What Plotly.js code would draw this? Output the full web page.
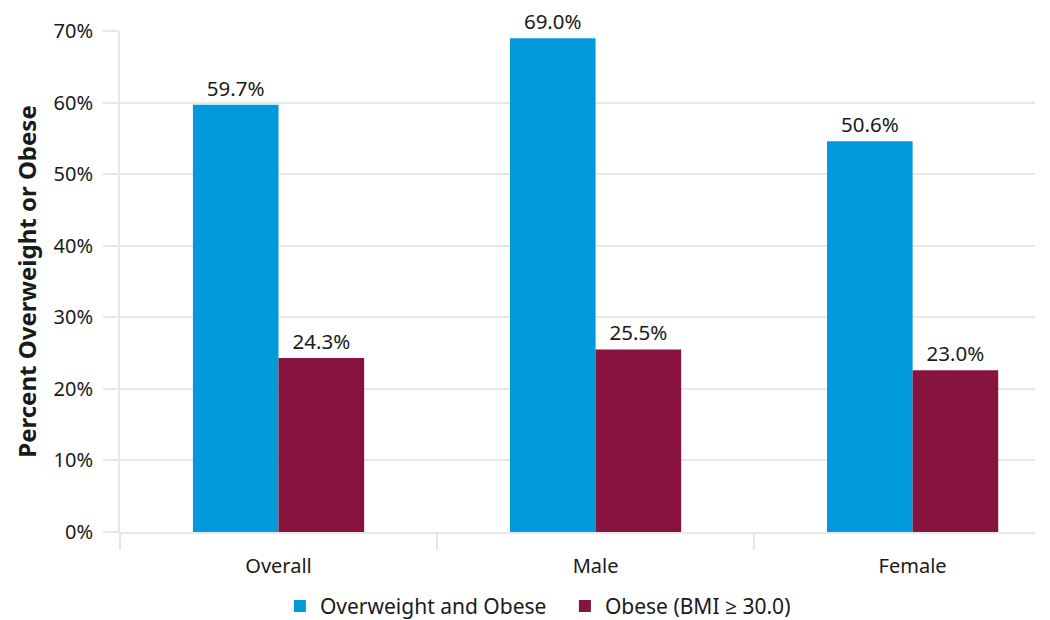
<!DOCTYPE html>
<html>
<head>
<meta charset="utf-8">
<script src="https://cdn.plot.ly/plotly-3.0.1.min.js"></script>
<style>html,body{margin:0;padding:0;background:#fff;}#chart{width:1050px;height:620px;}</style>
</head>
<body>
<div id="chart"></div>
<script>
// Data
const categories = ["Overall", "Male", "Female"];
const overweightObese = [59.7, 69.0, 54.6];          // bar heights as drawn
const overweightObeseLabels = ["59.7%", "69.0%", "50.6%"];  // labels as printed
const obese = [24.3, 25.5, 22.6];
const obeseLabels = ["24.3%", "25.5%", "23.0%"];
const yTickVals = [0, 10, 20, 30, 40, 50, 60, 70];
const yTickText = ["0%", "10%", "20%", "30%", "40%", "50%", "60%", "70%"];
const seriesNames = ["Overweight and Obese", "Obese (BMI \u2265 30.0)"];
const colors = ["#009ADA", "#86143F"];

const font = "Noto Sans, Open Sans, sans-serif";
const textColor = "#1a1a1a";
const gridColor = "#e7e7e7";

const traces = [
  {
    type: "bar", name: seriesNames[0], x: categories, y: overweightObese,
    text: overweightObeseLabels, texttemplate: "%{text}", textposition: "outside",
    cliponaxis: false,
    textfont: {family: font, size: 20.5, color: textColor},
    marker: {color: colors[0]}, hoverinfo: "skip"
  },
  {
    type: "bar", name: seriesNames[1], x: categories, y: obese,
    text: obeseLabels, texttemplate: "%{text}", textposition: "outside",
    cliponaxis: false,
    textfont: {family: font, size: 20.5, color: textColor},
    marker: {color: colors[1]}, hoverinfo: "skip"
  }
];

const layout = {
  width: 1050, height: 620,
  margin: {l: 120, r: 15, t: 31, b: 88, autoexpand: false},
  paper_bgcolor: "#ffffff", plot_bgcolor: "#ffffff",
  font: {family: font, color: textColor, size: 20},
  barmode: "group", bargap: 0.46, bargroupgap: 0,
  showlegend: true,
  legend: {
    orientation: "h", xref: "container", yref: "container",
    x: 0.538, xanchor: "center", y: 0.022, yanchor: "middle",
    font: {family: font, size: 21, color: textColor},
    itemwidth: 30, tracegroupgap: 0, entrywidth: 240
  },
  xaxis: {
    type: "category", range: [-0.5, 2.386], automargin: false,
    tickson: "boundaries", ticks: "outside", ticklen: 16, tickwidth: 2, tickcolor: gridColor,
    ticklabelstandoff: 15,
    showgrid: false, showline: true, linecolor: gridColor, linewidth: 2,
    tickfont: {family: font, size: 20, color: textColor},
    fixedrange: true
  },
  yaxis: {
    range: [0, 70], tickvals: yTickVals, ticktext: yTickText, automargin: false,
    ticks: "outside", ticklen: 15, tickwidth: 2, tickcolor: gridColor,
    ticklabelstandoff: 6,
    showgrid: true, gridcolor: gridColor, gridwidth: 2,
    showline: true, linecolor: gridColor, linewidth: 2,
    zeroline: false,
    tickfont: {family: font, size: 20, color: textColor},
    title: {text: "<b>Percent Overweight or Obese</b>", font: {family: font, size: 24, color: textColor}, standoff: 10},
    fixedrange: true
  }
};

Plotly.newPlot("chart", traces, layout, {displayModeBar: false, staticPlot: true});
</script>
</body>
</html>
